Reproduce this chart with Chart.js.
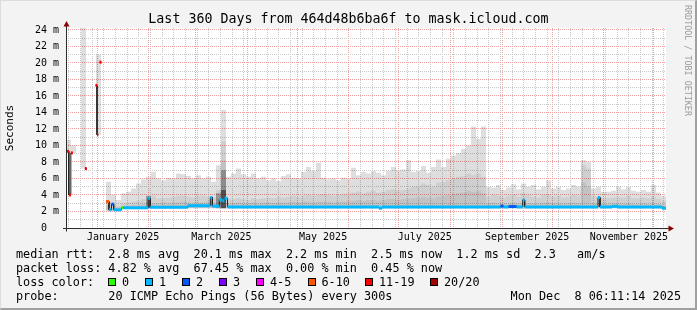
<!DOCTYPE html>
<html>
<head>
<meta charset="utf-8">
<title>Last 360 Days from 464d48b6ba6f to mask.icloud.com</title>
<script src="https://cdn.jsdelivr.net/npm/chart.js@4.4.1/dist/chart.umd.min.js"></script>
<style>
    body { margin: 0; background: #f3f3f3; }
    #graf { position: relative; width: 697px; height: 310px; background: #f3f3f3; overflow: hidden;
            font-family: "DejaVu Sans Mono", monospace; color: #000; }
    #graf canvas { position: absolute; left: 0; top: 0; }
    .teks { position: absolute; white-space: pre; line-height: 1; }
    .legenda { font-size: 11.8px; left: 16px; }
    .kotak { position: absolute; top: 278px; width: 6px; height: 6px; border: 1px solid #000; }
    .putar { text-align: center; line-height: 12px; height: 12px; }
    .bingkai { position: absolute; left: 0; top: 0; right: 0; bottom: 0; pointer-events: none;
               border-style: solid; border-width: 1px 2px 2px 1px;
               border-color: #dcdcdc #a0a0a0 #a0a0a0 #dcdcdc; }
</style>
</head>
<body>
<div id="graf">
    <canvas id="pingChart" width="697" height="310"></canvas>
    <div class="teks" style="left:0;width:697px;top:12px;text-align:center;font-size:13.3px;">Last 360 Days from 464d48b6ba6f to mask.icloud.com</div>
    <div class="teks putar" style="left:-15px;top:122px;width:50px;font-size:11px;transform:rotate(-90deg);">Seconds</div>
    <div class="teks putar" style="left:633px;top:54px;width:110px;font-size:8.4px;color:#9a9a9a;transform:rotate(90deg);">RRDTOOL / TOBI OETIKER</div>
    <div class="teks legenda" style="top:249px;">median rtt:  2.8 ms avg  20.1 ms max  2.2 ms min  2.5 ms now  1.2 ms sd  2.3   am/s</div>
    <div class="teks legenda" style="top:263px;">packet loss: 4.82 % avg  67.45 % max  0.00 % min  0.45 % now</div>
    <div class="teks legenda" style="top:277px;">loss color:</div>
    <div class="teks legenda" style="top:291px;">probe:       20 ICMP Echo Pings (56 Bytes) every 300s</div>
    <div class="teks legenda" style="top:291px;left:auto;right:16px;">Mon Dec  8 06:11:14 2025</div>
    <div id="lossLegend"></div>
    <div class="bingkai"></div>
</div>

<script>
// Graph ends at the probe timestamp, covers 360 days; x values are days since start
const DAY = 86400000;
const endTime = Date.UTC(2025, 11, 8, 6, 11, 14);
const startTime = endTime - 360 * DAY;

// Month labels (every second month)
const labelMonths = [0, 2, 4, 6, 8, 10];
const monthLabels = ['January 2025', 'March 2025', 'May 2025', 'July 2025', 'September 2025', 'November 2025'];

// Loss colours / legend
const lossColors = ['#26ff00', '#00b8ff', '#0059ff', '#7e00ff', '#ff00ff', '#ff5500', '#ff0000', '#a00000'];
const lossLabels = ['0', '1', '2', '3', '4-5', '6-10', '11-19', '20/20'];

// Median rtt (ms): segment boundaries in days, value per segment, loss colour index
const medianDays = [0.5, 1.7, 2.9, 4.1, 11.3, 12.5, 17.7, 18.6, 19.4, 20.1,
    21.3, 24.0, 25.8, 27.3, 28.6, 33.3, 34.4, 49.3, 50.5, 73.1,
    86.6, 87.8, 92.0, 93.9, 95.1, 96.9, 187.8, 189.6, 260.7, 262.5,
    265.6, 270.4, 274.0, 275.2, 319.2, 320.4, 327.6, 331.2, 357.7, 360];
const medianMs = [9.3, 4.0, 9.1, null, 7.2, null, 17.3, 11.3, null, 20.1,
    null, 3.2, 2.2, 2.9, 2.2, 2.45, 2.45, 3.6, 2.5, 2.7,
    3.7, 2.65, 3.4, 3.3, 3.6, 2.55, 2.4, 2.55, 2.65, 2.55,
    2.6, 2.55, 3.4, 2.55, 3.7, 2.55, 2.62, 2.55, 2.4];
const medianLoss = [6, 6, 6, 0, 6, 0, 6, 6, 0, 6,
    0, 5, 1, 2, 1, 0, 1, 1, 1, 1,
    1, 1, 1, 1, 1, 1, 1, 1, 2, 1,
    2, 1, 1, 1, 1, 1, 1, 1, 1];

// Smoke: 3-day bins from day 0, values in ms
const smokeStep = 3;
const smokeLow = [9.2, 9.1, null, 7.2, null, null, 11.3, null, 2.1, 2.1,
    2.1, 2.35, 2.35, 2.35, 2.35, 2.35, 2.4, 2.4, 2.4, 2.4,
    2.4, 2.4, 2.4, 2.4, 2.4, 2.4, 2.4, 2.4, 2.4, 2.4,
    2.4, 2.4, 2.4, 2.4, 2.4, 2.4, 2.4, 2.4, 2.4, 2.4,
    2.4, 2.4, 2.4, 2.4, 2.4, 2.4, 2.4, 2.4, 2.4, 2.4,
    2.4, 2.4, 2.4, 2.4, 2.4, 2.4, 2.4, 2.4, 2.4, 2.4,
    2.4, 2.4, 2.4, 2.4, 2.4, 2.4, 2.4, 2.4, 2.4, 2.4,
    2.4, 2.4, 2.4, 2.4, 2.4, 2.4, 2.4, 2.4, 2.4, 2.4,
    2.4, 2.4, 2.4, 2.4, 2.4, 2.4, 2.4, 2.4, 2.4, 2.4,
    2.4, 2.4, 2.4, 2.4, 2.4, 2.4, 2.4, 2.4, 2.4, 2.4,
    2.4, 2.4, 2.4, 2.4, 2.4, 2.4, 2.4, 2.4, 2.4, 2.4,
    2.4, 2.4, 2.4, 2.4, 2.4, 2.4, 2.4, 2.4, 2.4, 2.4];
const smokeMax = [10.7, 10.0, null, 25, null, null, 21.0, null, 5.6, 4.0,
    3.4, 4.2, 4.4, 4.8, 5.4, 5.9, 6.2, 6.8, 6.0, 5.8,
    6.1, 6.0, 6.6, 6.5, 6.3, 6.0, 6.4, 6.0, 6.2, 5.6,
    7.6, 14.3, 6.2, 6.6, 7.2, 6.5, 6.2, 6.6, 6.0, 6.2,
    5.8, 6.0, 5.7, 6.3, 6.5, 6.1, 6.0, 6.8, 7.4, 6.9,
    7.9, 6.1, 5.9, 6.0, 5.8, 6.1, 6.0, 7.3, 6.4, 6.8,
    6.6, 6.9, 6.7, 6.4, 6.9, 7.4, 7.0, 7.1, 8.2, 6.8,
    6.9, 7.5, 6.7, 7.4, 8.3, 7.4, 8.4, 8.8, 9.1, 9.6,
    10.0, 12.3, 10.8, 12.3, 5.0, 4.9, 5.2, 4.6, 4.9, 5.3,
    4.7, 5.4, 5.0, 5.2, 4.7, 5.0, 5.8, 4.8, 5.0, 4.6,
    4.8, 5.2, 5.0, 8.2, 8.0, 4.8, 5.0, 4.4, 4.4, 4.5,
    5.0, 4.7, 5.0, 4.5, 4.4, 4.6, 4.4, 5.2, 4.3, 3.9];
const smokeMid = [null, null, null, null, null, null, null, null, 3.2, 2.8,
    2.7, 3.0, 3.1, 3.2, 3.3, 3.5, 3.8, 3.9, 3.6, 3.6,
    3.7, 3.8, 3.9, 3.9, 3.8, 3.7, 3.9, 3.9, 3.8, 3.7,
    4.6, 10.5, 3.6, 3.5, 3.6, 3.5, 3.4, 3.6, 3.5, 3.6,
    3.7, 3.6, 3.8, 3.7, 3.8, 3.9, 3.8, 3.9, 4.0, 3.9,
    4.0, 4.1, 4.0, 3.9, 4.0, 4.1, 4.2, 4.3, 4.4, 4.2,
    4.4, 4.5, 4.3, 4.4, 4.6, 4.7, 4.5, 4.6, 4.8, 5.0,
    5.1, 5.4, 5.2, 5.0, 5.5, 5.6, 5.8, 6.0, 6.2, 6.3,
    6.6, 6.4, 6.6, 6.2, 3.8, 4.0, 3.9, 3.7, 3.9, 4.1,
    3.8, 4.2, 4.0, 3.8, 3.7, 4.0, 4.1, 3.8, 3.9, 3.7,
    3.8, 4.0, 3.9, 7.6, 7.2, 3.9, 3.8, 3.6, 3.6, 3.7,
    3.8, 3.7, 3.9, 3.6, 3.6, 3.7, 3.6, 3.8, 3.5, 3.3];
const smokeCore = [null, null, null, null, null, null, null, null, 2.8, 2.5,
    2.5, 2.7, 2.7, 2.8, 2.8, 2.9, 3.1, 3.0, 3.0, 3.1,
    3.0, 3.1, 3.1, 3.2, 3.1, 3.0, 3.1, 3.1, 3.2, 3.1,
    3.6, 8.2, 3.0, 3.0, 3.1, 3.0, 3.0, 3.1, 3.0, 3.1,
    3.1, 3.0, 3.1, 3.1, 3.1, 3.2, 3.1, 3.2, 3.2, 3.1,
    3.2, 3.2, 3.2, 3.1, 3.2, 3.2, 3.3, 3.3, 3.4, 3.3,
    3.4, 3.4, 3.3, 3.4, 3.5, 3.5, 3.4, 3.5, 3.6, 3.6,
    3.7, 3.8, 3.7, 3.6, 3.8, 3.9, 4.0, 4.1, 4.2, 4.3,
    4.5, 4.4, 4.5, 4.2, 3.0, 3.1, 3.0, 3.0, 3.0, 3.1,
    3.0, 3.1, 3.0, 3.0, 3.0, 3.1, 3.1, 3.0, 3.0, 3.0,
    3.0, 3.1, 3.0, 5.5, 5.0, 3.0, 3.0, 2.9, 2.9, 3.0,
    3.0, 2.9, 3.0, 2.9, 2.9, 3.0, 2.9, 3.0, 2.9, 2.8];
// Dark smoke only shows in a few bins
const darkBins = [16, 30, 31];
const darkMs = [3.9, 4.2, 7.0];
const darkestBins = [31];
const darkestMs = [4.6];

// Layout / styles
const FONT = 'DejaVu Sans Mono';
const GRID_MINOR = '#c8c8c8';
const GRID_MAJOR = '#f0a0a0';
const lossBoxX = [108, 145, 182, 219, 256, 307.5, 365, 430];

function dayOf(y, m, d) {
    return (Date.UTC(y, m, d) - startTime) / DAY;
}

// Ticks for x axis: weekly (Sunday) minor lines, month major lines, mid-month labels
function buildXTicks() {
    const ticks = [];
    for (let d = dayOf(2024, 11, 15); d < 360; d += 7) ticks.push({ value: d, kind: 'minor', rank: 0 });
    for (let m = 0; m < 12; m++) ticks.push({ value: dayOf(2025, m, 1), kind: 'major', rank: 1 });
    labelMonths.forEach((m, i) => {
        const mid = (dayOf(2025, m, 1) + dayOf(2025, m + 1, 1)) / 2;
        ticks.push({ value: mid, kind: 'label', rank: 2, text: monthLabels[i] });
    });
    return ticks.filter(t => t.value > 0 && t.value < 360)
        .sort((a, b) => (a.value - b.value) || (a.rank - b.rank));
}

function buildYTicks() {
    const ticks = [];
    for (let v = 0; v <= 24; v++) {
        const major = v % 2 === 0;
        ticks.push({ value: v, kind: major ? 'major' : 'minor', text: major ? (v === 0 ? '0  ' : v + ' m') : '' });
    }
    return ticks;
}

// Bin values -> flat steps (two points per bin, null for gaps)
function binLine(values) {
    const pts = [];
    values.forEach((v, i) => {
        const x0 = i * smokeStep;
        if (v === null) pts.push({ x: x0, y: null });
        else pts.push({ x: x0, y: v }, { x: x0 + smokeStep, y: v });
    });
    return pts;
}

function sparseBins(bins, vals) {
    const arr = smokeLow.map(() => null);
    bins.forEach((b, i) => { arr[b] = vals[i]; });
    return arr;
}

function medianLine() {
    const pts = [];
    medianMs.forEach((v, i) => {
        if (v === null) { pts.push({ x: medianDays[i], y: null }); return; }
        pts.push({ x: medianDays[i], y: v, loss: medianLoss[i] });
        pts.push({ x: medianDays[i + 1], y: v, loss: medianLoss[i] });
    });
    return pts;
}

const xTicks = buildXTicks();
const yTicks = buildYTicks();
const medianPts = medianLine();

// Smoke layers are translucent so the grid underneath still shows through
function smokeSet(label, values, color, order) {
    return {
        label: label, data: binLine(values), borderWidth: 0, borderColor: 'rgba(0,0,0,0)',
        backgroundColor: color, fill: 0, order: order, pointRadius: 0
    };
}

// White canvas + rrdtool style axes with arrows
const plotFrame = {
    id: 'plotFrame',
    beforeDraw(chart) {
        const { ctx, chartArea: a } = chart;
        ctx.save();
        ctx.fillStyle = '#ffffff';
        ctx.fillRect(a.left, a.top, a.right - a.left, a.bottom - a.top);
        ctx.restore();
    },
    afterDraw(chart) {
        const { ctx, chartArea: a } = chart;
        const y0 = Math.round(chart.scales.y.getPixelForValue(0)) + 0.5;
        const x0 = a.left + 0.5;
        ctx.save();
        ctx.strokeStyle = '#2c2c2c';
        ctx.lineWidth = 1;
        ctx.beginPath();
        ctx.moveTo(a.left - 3, y0);
        ctx.lineTo(a.right + 3, y0);
        ctx.moveTo(x0, y0 + 3);
        ctx.lineTo(x0, a.top - 2);
        ctx.stroke();
        ctx.fillStyle = '#8b0000';
        ctx.beginPath();
        ctx.moveTo(x0, a.top - 7);
        ctx.lineTo(x0 - 3, a.top - 1.5);
        ctx.lineTo(x0 + 3, a.top - 1.5);
        ctx.closePath();
        ctx.fill();
        ctx.beginPath();
        ctx.moveTo(a.right + 8, y0);
        ctx.lineTo(a.right + 2.5, y0 - 3);
        ctx.lineTo(a.right + 2.5, y0 + 3);
        ctx.closePath();
        ctx.fill();
        ctx.restore();
    }
};

const ctx = document.getElementById('pingChart').getContext('2d');
const chartInstance = new Chart(ctx, {
    type: 'line',
    data: {
        datasets: [
            { label: 'min', data: binLine(smokeLow), borderWidth: 0, borderColor: 'rgba(0,0,0,0)', fill: false, order: 20, pointRadius: 0 },
            smokeSet('smoke', smokeMax, 'rgba(0,0,0,0.13)', 15),
            smokeSet('smoke mid', smokeMid, 'rgba(0,0,0,0.065)', 14),
            smokeSet('smoke core', smokeCore, 'rgba(0,0,0,0.06)', 13),
            smokeSet('smoke dark', sparseBins(darkBins, darkMs), 'rgba(0,0,0,0.28)', 12),
            smokeSet('smoke darkest', sparseBins(darkestBins, darkestMs), 'rgba(0,0,0,0.44)', 11),
            {
                label: 'median', data: medianPts, borderColor: '#202020', borderWidth: 1,
                fill: false, order: 2, pointRadius: 0
            },
            {
                label: 'median loss', data: medianPts, borderWidth: 3, borderCapStyle: 'butt',
                borderColor: 'rgba(0,0,0,0)', fill: false, order: 1, pointRadius: 0,
                segment: {
                    borderColor: (c) => c.p0.parsed.x === c.p1.parsed.x
                        ? 'rgba(0,0,0,0)'
                        : lossColors[medianPts[c.p0DataIndex].loss]
                }
            }
        ]
    },
    options: {
        responsive: false,
        animation: false,
        events: [],
        layout: { padding: { left: 0, right: 31, top: 28, bottom: 62 } },
        plugins: { legend: { display: false }, tooltip: { enabled: false }, title: { display: false } },
        elements: { line: { tension: 0 }, point: { radius: 0 } },
        scales: {
            x: {
                type: 'linear', min: 0, max: 360,
                afterBuildTicks: (s) => { s.ticks = xTicks.map(t => ({ ...t })); },
                afterFit: (s) => { s.height = 20; },
                grid: {
                    drawTicks: false, lineWidth: 1,
                    color: (c) => !c.tick ? 'rgba(0,0,0,0)'
                        : c.tick.kind === 'major' ? GRID_MAJOR
                        : c.tick.kind === 'minor' ? GRID_MINOR : 'rgba(0,0,0,0)'
                },
                border: { display: false, dash: [1, 1] },
                ticks: {
                    autoSkip: false, maxRotation: 0, minRotation: 0, padding: 3,
                    color: '#000', font: { family: FONT, size: 10 },
                    callback: (v, i, t) => (t[i] && t[i].text) ? t[i].text : ''
                }
            },
            y: {
                type: 'linear', min: 0, max: 24.24,
                afterBuildTicks: (s) => { s.ticks = yTicks.map(t => ({ ...t })); },
                afterFit: (s) => { s.width = 66; },
                grid: {
                    drawTicks: false, lineWidth: 1,
                    color: (c) => !c.tick ? 'rgba(0,0,0,0)'
                        : c.tick.kind === 'major' ? GRID_MAJOR : GRID_MINOR
                },
                border: { display: false, dash: [1, 1] },
                ticks: {
                    autoSkip: false, padding: 7,
                    color: '#000', font: { family: FONT, size: 10 },
                    callback: (v, i, t) => (t[i] && t[i].text) ? t[i].text : ''
                }
            }
        }
    },
    plugins: [plotFrame]
});

// Loss colour boxes in the legend
document.getElementById('lossLegend').innerHTML = lossColors.map((c, i) => `
    <div class="kotak" style="left:${lossBoxX[i]}px;background:${c};"></div>
    <div class="teks legenda" style="left:${lossBoxX[i] + 14}px;top:277px;">${lossLabels[i]}</div>
`).join('');
</script>
</body>
</html>
